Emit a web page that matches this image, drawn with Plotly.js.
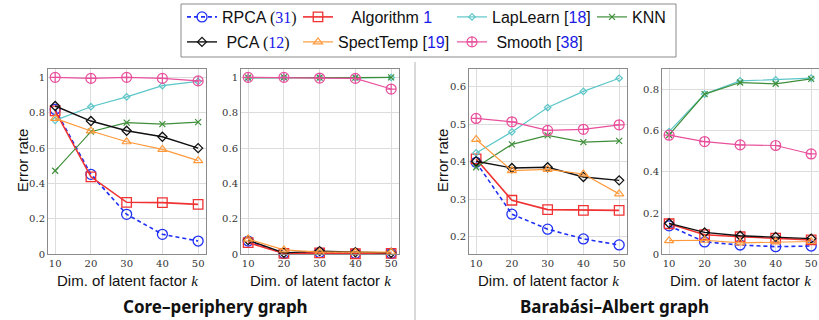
<!DOCTYPE html>
<html>
<head>
<meta charset="utf-8">
<script src="https://cdn.plot.ly/plotly-3.0.1.min.js"></script>
<style>html,body{margin:0;padding:0;background:#fff;}#chart{width:819px;height:320px;}</style>
</head>
<body>
<div id="chart"></div>
<script>
// ---------- data ----------
const kVals = [10, 20, 30, 40, 50];
const xTickLabels = ['10', '20', '30', '40', '50'];

// Core-periphery graph, left panel
const cpA_rpca      = [0.819, 0.452, 0.226, 0.113, 0.075];
const cpA_alg       = [0.811, 0.438, 0.294, 0.292, 0.282];
const cpA_laplearn  = [0.757, 0.834, 0.890, 0.953, 0.977];
const cpA_knn       = [0.472, 0.693, 0.744, 0.736, 0.747];
const cpA_pca       = [0.838, 0.753, 0.698, 0.664, 0.600];
const cpA_specttemp = [0.768, 0.697, 0.636, 0.593, 0.529];
const cpA_smooth    = [1.000, 0.994, 1.000, 0.994, 0.980];

// Core-periphery graph, right panel
const cpB_rpca      = [0.075, 0.005, 0.010, 0.005, 0.005];
const cpB_alg       = [0.066, 0.005, 0.008, 0.003, 0.005];
const cpB_laplearn  = [0.997, 0.999, 0.998, 0.997, 0.999];
const cpB_knn       = [0.998, 1.000, 0.998, 0.998, 1.000];
const cpB_pca       = [0.080, 0.008, 0.018, 0.012, 0.008];
const cpB_specttemp = [0.086, 0.025, 0.012, 0.010, 0.012];
const cpB_smooth    = [1.000, 1.000, 0.996, 0.994, 0.934];

// Barabasi-Albert graph, left panel
const baA_rpca      = [0.398, 0.260, 0.220, 0.194, 0.178];
const baA_alg       = [0.407, 0.297, 0.272, 0.270, 0.270];
const baA_laplearn  = [0.423, 0.479, 0.544, 0.587, 0.622];
const baA_knn       = [0.385, 0.446, 0.470, 0.452, 0.455];
const baA_pca       = [0.401, 0.383, 0.385, 0.359, 0.350];
const baA_specttemp = [0.459, 0.376, 0.379, 0.367, 0.314];
const baA_smooth    = [0.515, 0.506, 0.483, 0.486, 0.498];

// Barabasi-Albert graph, right panel
const baB_rpca      = [0.138, 0.060, 0.045, 0.037, 0.040];
const baB_alg       = [0.148, 0.095, 0.085, 0.078, 0.070];
const baB_laplearn  = [0.594, 0.776, 0.840, 0.845, 0.853];
const baB_knn       = [0.578, 0.776, 0.832, 0.826, 0.850];
const baB_pca       = [0.150, 0.106, 0.090, 0.084, 0.076];
const baB_specttemp = [0.066, 0.068, 0.055, 0.060, 0.062];
const baB_smooth    = [0.577, 0.546, 0.530, 0.527, 0.486];

// ---------- styles ----------
const SERIF = "'DejaVu Serif', 'Liberation Serif', serif";
const SANS = "'Liberation Sans', Arial, sans-serif";
const CITE = '#1a1ae6';
const SERIF_SPAN = "font-family:'Liberation Serif',serif";

const methods = [
  {key:'rpca', legend:'legend',
   name:'RPCA <span style="' + SERIF_SPAN + '">(</span><span style="' + SERIF_SPAN + ';color:' + CITE + '">31</span><span style="' + SERIF_SPAN + '">)</span>',
   line:{color:'#1f2ff5', width:1.6, dash:'4px,3px'},
   marker:{symbol:'circle-open', size:10, line:{color:'#1f2ff5', width:1.3}}},
  {key:'alg', legend:'legend2',
   name:'\u00a0\u00a0\u00a0Algorithm <span style="color:' + CITE + '">1</span>',
   line:{color:'#f03232', width:1.6},
   marker:{symbol:'square-open', size:9.5, line:{color:'#f03232', width:1.3}}},
  {key:'laplearn', legend:'legend3',
   name:'LapLearn [<span style="color:' + CITE + '">18</span>]',
   line:{color:'#5cc6c8', width:1.2},
   marker:{symbol:'diamond-open', size:5, line:{color:'#5cc6c8', width:1.2}}},
  {key:'knn', legend:'legend4',
   name:'KNN',
   line:{color:'#3f8f3a', width:1.2},
   marker:{symbol:'x-thin-open', size:6, line:{color:'#3f8f3a', width:1.2}}},
  {key:'pca', legend:'legend5',
   name:'\u00a0PCA <span style="' + SERIF_SPAN + '">(</span><span style="' + SERIF_SPAN + ';color:' + CITE + '">12</span><span style="' + SERIF_SPAN + '">)</span>',
   line:{color:'#111111', width:1.4},
   marker:{symbol:'diamond-open', size:7, line:{color:'#111111', width:1.3}}},
  {key:'specttemp', legend:'legend6',
   name:'SpectTemp [<span style="color:' + CITE + '">19</span>]',
   line:{color:'#ff9a3c', width:1.2},
   marker:{symbol:'triangle-up-open', size:8, line:{color:'#ff9a3c', width:1.2}}},
  {key:'smooth', legend:'legend7',
   name:'\u00a0Smooth [<span style="color:' + CITE + '">38</span>]',
   line:{color:'#e8509c', width:1.2},
   marker:{symbol:'circle-cross-open', size:10, line:{color:'#e8509c', width:1.2}}}
];

const panels = [
  {xa:'x', ya:'y', data:{rpca:cpA_rpca, alg:cpA_alg, laplearn:cpA_laplearn, knn:cpA_knn, pca:cpA_pca, specttemp:cpA_specttemp, smooth:cpA_smooth}},
  {xa:'x2', ya:'y2', data:{rpca:cpB_rpca, alg:cpB_alg, laplearn:cpB_laplearn, knn:cpB_knn, pca:cpB_pca, specttemp:cpB_specttemp, smooth:cpB_smooth}},
  {xa:'x3', ya:'y3', data:{rpca:baA_rpca, alg:baA_alg, laplearn:baA_laplearn, knn:baA_knn, pca:baA_pca, specttemp:baA_specttemp, smooth:baA_smooth}},
  {xa:'x4', ya:'y4', data:{rpca:baB_rpca, alg:baB_alg, laplearn:baB_laplearn, knn:baB_knn, pca:baB_pca, specttemp:baB_specttemp, smooth:baB_smooth}}
];

const traces = [];
panels.forEach((p, pi) => {
  methods.forEach(m => {
    traces.push({
      type:'scatter', mode:'lines+markers',
      x:kVals, y:p.data[m.key],
      xaxis:p.xa, yaxis:p.ya,
      name:m.name, legend:m.legend, legendgroup:m.key,
      showlegend: pi === 0,
      line:m.line, marker:m.marker,
      cliponaxis:false, hoverinfo:'skip'
    });
  });
});

// ---------- layout ----------
const W = 819, H = 320;
const px = v => v / W;
const py = v => 1 - v / H;

function xAxis(l, r) {
  return {
    domain:[px(l), px(r)], range:[8, 52.2],
    tickvals:kVals, ticktext:xTickLabels,
    showline:true, mirror:true, linecolor:'#8a8a8a', linewidth:1,
    showgrid:true, gridcolor:'#dcdcdc', gridwidth:1, zeroline:false,
    ticks:'', tickfont:{family:SERIF, size:10, color:'#333'}, fixedrange:true
  };
}
function yAxis(anchor, range, tickvals) {
  return {
    domain:[py(254.3), py(68.5)], range:range, anchor:anchor,
    tickvals:tickvals,
    showline:true, mirror:true, linecolor:'#8a8a8a', linewidth:1,
    showgrid:true, gridcolor:'#dcdcdc', gridwidth:1, zeroline:false,
    ticks:'', tickfont:{family:SERIF, size:10, color:'#333'}, fixedrange:true
  };
}

function legendAt(xLeft, yMid) {
  return {
    xanchor:'left', yanchor:'middle', x:px(xLeft), y:py(yMid),
    bgcolor:'rgba(0,0,0,0)', borderwidth:0,
    font:{family:SANS, size:16, color:'#111'},
    itemwidth:30, tracegroupgap:0, orientation:'v',
    itemclick:false, itemdoubleclick:false
  };
}
const colLeft = [182, 298, 452, 592];
const rowMid = [17, 42];

const kTitle = "Dim. of latent factor <span style=\"" + SERIF_SPAN + "\"><i>k</i></span>";
const annotations = [
  {text:'Error rate', x:px(22), y:py(161), textangle:-90},
  {text:'Error rate', x:px(442), y:py(161), textangle:-90},
  {text:kTitle, x:px(127), y:py(280)},
  {text:kTitle, x:px(320), y:py(280)},
  {text:kTitle, x:px(548), y:py(280)},
  {text:kTitle, x:px(740), y:py(280)}
].map(a => Object.assign({xref:'paper', yref:'paper', showarrow:false,
  xanchor:'center', yanchor:'middle', font:{family:SANS, size:15, color:'#111'}}, a));
annotations.push(
  {text:'<b>Core\u2013periphery graph</b>', x:px(215), y:py(306), xref:'paper', yref:'paper',
   showarrow:false, xanchor:'center', yanchor:'middle', font:{family:"'Noto Sans', sans-serif", size:17, color:'#111'}},
  {text:'<b>Barab\u00e1si\u2013Albert graph</b>', x:px(614), y:py(306), xref:'paper', yref:'paper',
   showarrow:false, xanchor:'center', yanchor:'middle', font:{family:"'Noto Sans', sans-serif", size:17, color:'#111'}}
);

const layout = {
  width:W, height:H,
  margin:{l:0, r:0, t:0, b:0},
  paper_bgcolor:'#fff', plot_bgcolor:'#fff',
  showlegend:true,
  xaxis:  xAxis(48, 206),
  xaxis2: xAxis(241, 399),
  xaxis3: xAxis(469, 627),
  xaxis4: xAxis(662, 819),
  yaxis:  yAxis('x',  [0, 1.05], [0, 0.2, 0.4, 0.6, 0.8, 1]),
  yaxis2: yAxis('x2', [0, 1.05], [0, 0.2, 0.4, 0.6, 0.8, 1]),
  yaxis3: yAxis('x3', [0.153, 0.648], [0.2, 0.3, 0.4, 0.5, 0.6]),
  yaxis4: yAxis('x4', [0, 0.9], [0, 0.2, 0.4, 0.6, 0.8]),
  legend:  legendAt(colLeft[0], rowMid[0]),
  legend2: legendAt(colLeft[1], rowMid[0]),
  legend3: legendAt(colLeft[2], rowMid[0]),
  legend4: legendAt(colLeft[3], rowMid[0]),
  legend5: legendAt(colLeft[0], rowMid[1]),
  legend6: legendAt(colLeft[1], rowMid[1]),
  legend7: legendAt(colLeft[2], rowMid[1]),
  annotations:annotations,
  shapes:[
    {type:'rect', xref:'paper', yref:'paper', x0:px(181), x1:px(676), y0:py(57), y1:py(4),
     line:{color:'#8a8a8a', width:1}, fillcolor:'rgba(0,0,0,0)', layer:'below'},
    {type:'line', xref:'paper', yref:'paper', x0:px(415), x1:px(415), y0:py(320), y1:py(62),
     line:{color:'#b5b5b5', width:1}}
  ]
};

Plotly.newPlot('chart', traces, layout, {staticPlot:true, displayModeBar:false});
</script>
</body>
</html>
